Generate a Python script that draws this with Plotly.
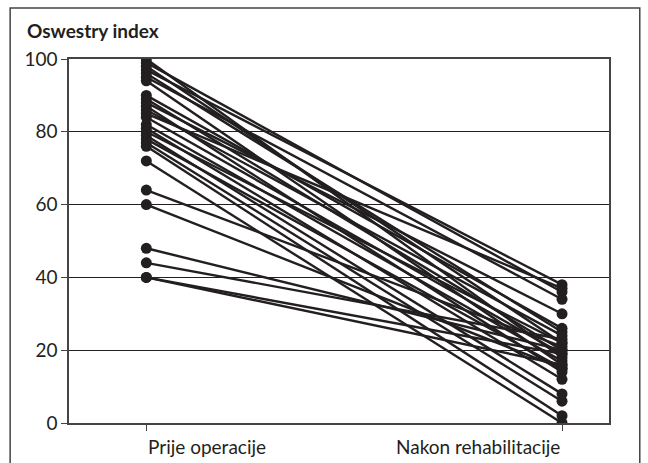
import plotly.graph_objects as go

categories = ["Prije operacije", "Nakon rehabilitacije"]
before = [100, 99, 98, 97, 96, 95, 94,
          90, 89, 88, 87, 86, 85, 84, 82, 81, 80, 79, 78, 77, 76,
          72, 64, 60, 48, 44, 40, 40]
after = [18, 36, 22, 38, 25, 34, 16,
         26, 20, 30, 14, 24, 37, 19, 17, 12, 22, 8, 15, 6, 2,
         0, 21, 15, 20, 23, 19, 16]
y_ticks = [0, 20, 40, 60, 80, 100]
y_title = "Oswestry index"

xs, ys = [], []
for b, a in zip(before, after):
    xs += [0, 1, None]
    ys += [b, a, None]

INK = "#231f20"
fig = go.Figure()
fig.add_trace(go.Scatter(
    x=xs, y=ys, mode="lines+markers",
    line=dict(color=INK, width=2.4),
    marker=dict(color=INK, size=11),
    showlegend=False, hoverinfo="skip"))

fig.update_layout(
    width=648, height=463,
    margin=dict(l=69, r=39, t=59, b=40),
    paper_bgcolor="white", plot_bgcolor="white",
    font=dict(family="Lato, Noto Sans, sans-serif", color=INK, size=18),
    xaxis=dict(range=[-0.186, 1.113], tickvals=[0, 1], showticklabels=False,
               ticks="outside", ticklen=6, tickcolor="#444", tickwidth=1,
               showgrid=False, zeroline=False, showline=True, linecolor="#444",
               linewidth=1.5, mirror=True, fixedrange=True),
    yaxis=dict(range=[0, 100], tickvals=y_ticks, ticks="outside", ticklen=6,
               tickcolor="#444", tickwidth=1, showgrid=True, gridcolor=INK,
               gridwidth=1, zeroline=False, showline=True, linecolor="#444",
               linewidth=1.5, mirror=True, tickfont=dict(size=19), fixedrange=True),
)

fig.add_annotation(x=0, y=0, xref="x", yref="paper", text=categories[0],
                   showarrow=False, xanchor="left", yanchor="top", yshift=-10,
                   font=dict(size=19))
fig.add_annotation(x=1, y=0, xref="x", yref="paper", text=categories[1],
                   showarrow=False, xanchor="right", yanchor="top", yshift=-10,
                   font=dict(size=19))
fig.add_annotation(x=-0.0815, y=1.077, xref="paper", yref="paper", text=y_title,
                   showarrow=False, xanchor="left", yanchor="middle",
                   font=dict(size=19, weight="bold"))

fig.add_shape(type="rect", xref="paper", yref="paper",
              x0=-0.109, x1=1.057, y0=-0.3, y1=1.140,
              line=dict(color="#444", width=1.5), layer="below")

fig.write_html("out.html", config={"displayModeBar": False},
               post_script="document.body.style.margin='0';document.body.style.overflow='hidden';")
